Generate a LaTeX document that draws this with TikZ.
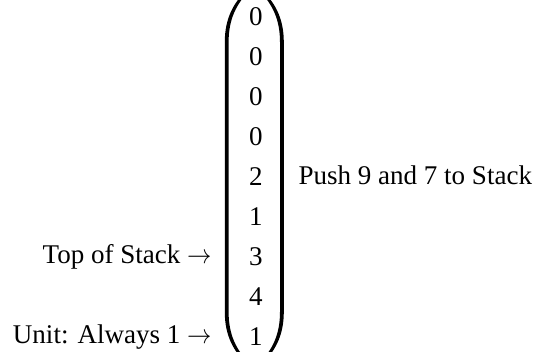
\documentclass[tikz,border=0pt]{standalone}
\usepackage{fontspec}
\setmainfont{Liberation Serif}
\begin{document}
\begin{tikzpicture}[x=0.37pt,y=-0.37pt,
  entry/.style={anchor=base,inner sep=0pt,font=\fontsize{10}{12}\selectfont},
  lbl/.style={anchor=base east,inner sep=0pt,font=\fontsize{10}{12}\selectfont},
  rlbl/.style={anchor=base west,inner sep=0pt,font=\fontsize{10}{12}\selectfont},
  paren/.style={fill=black,draw=none}]
\useasboundingbox (0,0) rectangle (534,352);
\node[entry] (e1) at (256,26) {0};
\node[entry] (e2) at (256,66) {0};
\node[entry] (e3) at (256,106) {0};
\node[entry] (e4) at (256,146) {0};
\node[entry] (e5) at (256,186) {2};
\node[entry] (e6) at (256,226) {1};
\node[entry] (e7) at (256,266) {3};
\node[entry] (e8) at (256,306) {4};
\node[entry] (e9) at (256,346) {1};
% left parenthesis
\path[paren] (247,-10) .. controls (234,2) and (224.8,18) .. (224.8,42)
  -- (224.8,312) .. controls (224.8,336) and (234,352) .. (247,364)
  -- (249,363) .. controls (236.5,350) and (228.6,335) .. (228.6,312)
  -- (228.6,42) .. controls (228.6,19) and (236.5,4) .. (249,-9) -- cycle;
% right parenthesis (mirror about x = 254.3)
\begin{scope}[xshift=508.6*0.37pt,xscale=-1]
\path[paren] (247,-10) .. controls (234,2) and (224.8,18) .. (224.8,42)
  -- (224.8,312) .. controls (224.8,336) and (234,352) .. (247,364)
  -- (249,363) .. controls (236.5,350) and (228.6,335) .. (228.6,312)
  -- (228.6,42) .. controls (228.6,19) and (236.5,4) .. (249,-9) -- cycle;
\end{scope}
\node[rlbl] (push) at (298,185) {Push 9 and 7 to Stack};
\node[lbl] (top) at (212,264) {Top of Stack \scalebox{0.9}[1]{$\rightarrow$}};
\node[lbl] (unit) at (212,344) {Unit: Always 1 \scalebox{0.9}[1]{$\rightarrow$}};
\end{tikzpicture}
\end{document}
